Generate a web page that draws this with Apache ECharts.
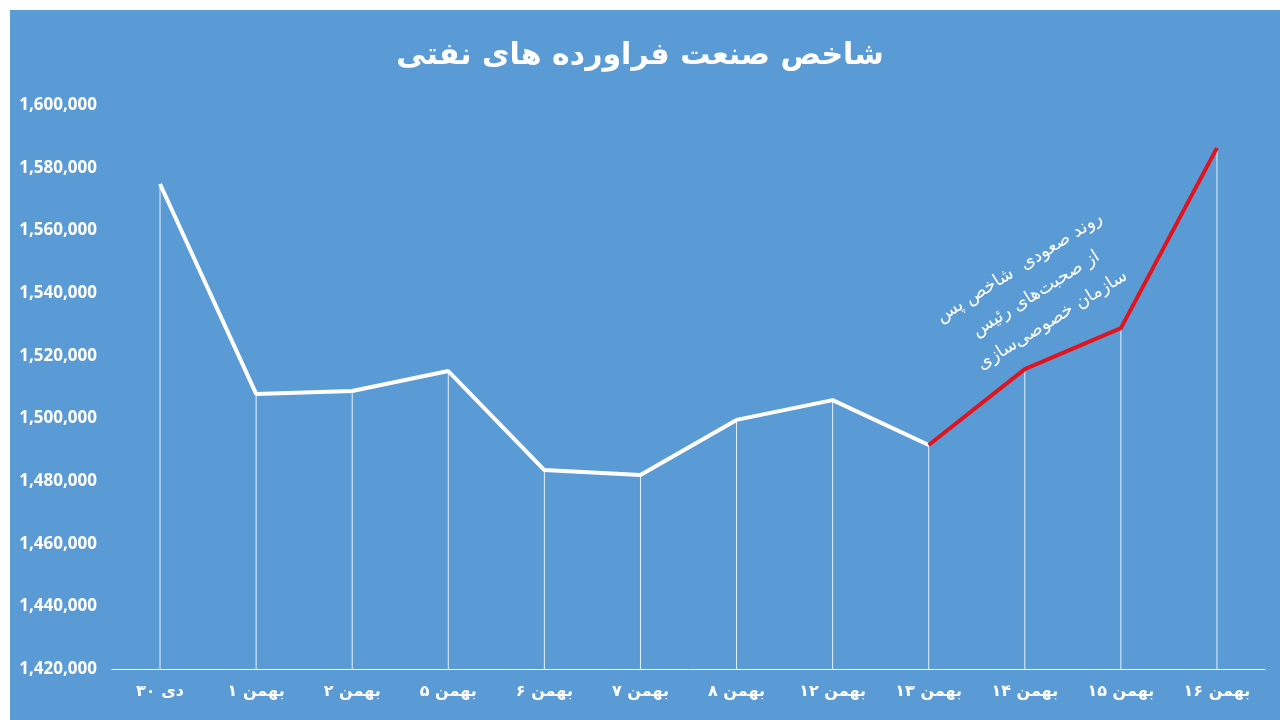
<!DOCTYPE html>
<html>
<head>
<meta charset="utf-8">
<script src="https://cdn.jsdelivr.net/npm/echarts@6/dist/echarts.min.js"></script>
<style>
  html, body { margin: 0; padding: 0; background: #fff; }
  #main { width: 1280px; height: 720px; }
</style>
</head>
<body>
<div id="main"></div>
<script>
var myChart = echarts.init(document.getElementById('main'));

// x轴标签
var categories = ['۳۰ دی', '۱ بهمن', '۲ بهمن', '۵ بهمن', '۶ بهمن', '۷ بهمن',
  '۸ بهمن', '۱۲ بهمن', '۱۳ بهمن', '۱۴ بهمن', '۱۵ بهمن', '۱۶ بهمن'];

// 指数数据
var values = [1574800, 1507800, 1508700, 1515100, 1483500, 1481900,
  1499500, 1505800, 1491500, 1515700, 1528800, 1586300];

// 红色段从第几个点开始
var redStart = 8;

var title = 'شاخص صنعت فراورده های نفتی';
var note = 'روند صعودی  شاخص پس\nاز صحبت‌های رئیس\nسازمان خصوصی‌سازی';

var whiteData = values.map(function (v, i) { return i <= redStart ? v : null; });
var redData = values.map(function (v, i) { return i >= redStart ? v : null; });

var option = {
  backgroundColor: '#fff',
  animation: false,
  title: {
    text: title,
    left: 'center',
    top: 36,
    textStyle: {
      color: '#fff',
      fontSize: 30,
      fontWeight: 'bold',
      fontFamily: 'DejaVu Sans'
    }
  },
  graphic: [
    { // 蓝色背景
      type: 'rect',
      z: -10,
      silent: true,
      shape: { x: 10, y: 10, width: 1270, height: 710 },
      style: { fill: '#5B9BD5' }
    },
    { // 注释文字
      type: 'text',
      x: 1036,
      y: 294,
      rotation: 32 * Math.PI / 180,
      z: 10,
      style: {
        text: note,
        fill: '#fff',
        font: '18px "DejaVu Sans"',
        align: 'center',
        verticalAlign: 'middle',
        lineHeight: 31
      }
    }
  ],
  grid: {
    left: 112,
    right: 15,
    top: 105,
    bottom: 51
  },
  xAxis: {
    type: 'category',
    data: categories,
    boundaryGap: true,
    axisLine: { lineStyle: { color: '#fff', width: 1 } },
    axisTick: { show: false },
    axisLabel: {
      color: '#fff',
      fontSize: 16,
      fontWeight: 'bold',
      fontFamily: 'DejaVu Sans',
      margin: 15
    }
  },
  yAxis: {
    type: 'value',
    min: 1420000,
    max: 1600000,
    interval: 20000,
    axisLine: { show: false },
    axisTick: { show: false },
    splitLine: { show: false },
    axisLabel: {
      color: '#fff',
      fontSize: 17,
      fontWeight: 'bold',
      fontFamily: 'Noto Sans',
      margin: 15,
      formatter: function (v) { return v.toLocaleString('en-US'); }
    }
  },
  series: [
    { // 垂直线
      type: 'bar',
      barWidth: 1,
      data: values,
      itemStyle: { color: 'rgba(255,255,255,0.85)' },
      z: 1
    },
    {
      type: 'line',
      data: whiteData,
      showSymbol: false,
      lineStyle: { color: '#fff', width: 4 },
      z: 3
    },
    {
      type: 'line',
      data: redData,
      showSymbol: false,
      lineStyle: { color: '#E0141E', width: 4 },
      z: 4
    }
  ]
};

myChart.setOption(option);
</script>
</body>
</html>
